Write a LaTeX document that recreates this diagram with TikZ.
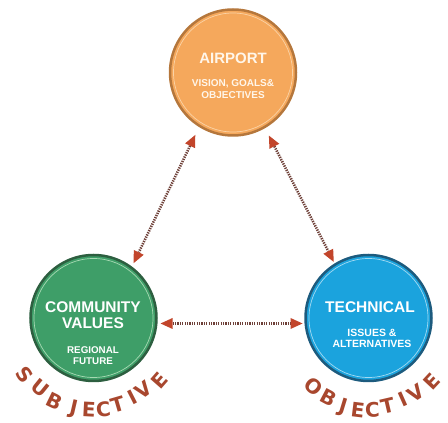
\documentclass[tikz,border=0pt]{standalone}
\usepackage{fontspec}
\setmainfont{Liberation Sans}
\newfontfamily\arcfont{DejaVu Sans}
\usetikzlibrary{arrows.meta}
\definecolor{airfill}{HTML}{F5A85C}
\definecolor{airdraw}{HTML}{B5773C}
\definecolor{airring}{HTML}{FAD3A6}
\definecolor{airtext}{HTML}{FFF6EA}
\definecolor{comfill}{HTML}{3E9E68}
\definecolor{comdraw}{HTML}{2D5F40}
\definecolor{comring}{HTML}{A6D9B2}
\definecolor{tecfill}{HTML}{1BA3DD}
\definecolor{tecdraw}{HTML}{1D5B7E}
\definecolor{tecring}{HTML}{A3DAF2}
\definecolor{linkc}{HTML}{6E4038}
\definecolor{headc}{HTML}{C2452B}
\definecolor{arcc}{HTML}{A8472E}
\begin{document}
\begin{tikzpicture}[x=1pt,y=1pt,
  circ/.style={circle, minimum size=126pt, inner sep=0pt, outer sep=0pt, line width=2.5pt},
  ring/.style={circle, minimum size=119pt, inner sep=0pt, outer sep=0pt, draw=#1, line width=0.7pt},
  link/.style={draw=linkc, line width=2.6pt, dash pattern=on 1.3pt off 1.1pt,
    {Triangle[length=12pt,width=11pt,color=headc,line width=0pt]}-{Triangle[length=12pt,width=11pt,color=headc,line width=0pt]}},
  bigt/.style={text=#1, font=\bfseries\fontsize{15.5}{16}\selectfont, align=center, inner sep=0pt},
  smallt/.style={text=#1, font=\bfseries\fontsize{9.5}{11.5}\selectfont, align=center, inner sep=0pt},
  arcl/.style={text=arcc, font=\arcfont\bfseries\fontsize{20}{20}\selectfont, inner sep=0pt}
]
\useasboundingbox (0,0) rectangle (448,423);
% circles
\node[circ, fill=airfill, draw=airdraw] (air) at (233,350.5) {};
\node[ring=airring] (airr) at (air) {};
\node[circ, fill=comfill, draw=comdraw] (com) at (93.5,105) {};
\node[ring=comring] (comr) at (com) {};
\node[circ, fill=tecfill, draw=tecdraw] (tec) at (368.5,105) {};
\node[ring=tecring] (tecr) at (tec) {};
% texts
\node[bigt=airtext, font=\bfseries\fontsize{15}{16}\selectfont] (airt) at (233,365) {AIRPORT};
\node[smallt=airtext, font=\bfseries\fontsize{10}{12}\selectfont] (airs) at (233,334) {VISION, GOALS\&\\OBJECTIVES};
\node[bigt=white, font=\bfseries\fontsize{15.5}{16}\selectfont] (comt) at (93,108) {COMMUNITY\\VALUES};
\node[smallt=white, font=\bfseries\fontsize{9.8}{11.5}\selectfont] (coms) at (93,67.5) {REGIONAL\\FUTURE};
\node[bigt=white] (tect) at (370,116) {TECHNICAL};
\node[smallt=white, font=\bfseries\fontsize{10.5}{11}\selectfont] (tecs) at (372,84.5) {ISSUES \&\\ALTERNATIVES};
% connectors
\draw[link, shorten <=10pt, shorten >=5pt] (air.238.7) -- (com.53.7);
\draw[link, shorten <=9.6pt, shorten >=3pt] (air.300.6) -- (tec.122);
\draw[link, shorten <=4.3pt, shorten >=3.2pt] (com.-5.5) -- (tec.185.5);
% curved labels
\foreach \l/\a/\r [count=\i] in {S/-142.5/87, U/-129/85, B/-116/88, J/-103/89, E/-93/88, C/-83.5/88, T/-73.7/86, I/-63/85, V/-53.7/85, E/-41.3/88}
  \node[arcl, rotate=\a+90] (s\i) at ([shift={(\a:\r)}, yshift=-4pt]com.center) {\l};
\foreach \l/\a/\r [count=\i] in {O/-131/84, B/-118/85, J/-107/88, E/-97/87.5, C/-87.4/86.5, T/-77/85, I/-66/84, V/-56/84, E/-43/86}
  \node[arcl, rotate=\a+90] (o\i) at ([shift={(\a:\r)}, yshift=-5pt]tec.center) {\l};
\end{tikzpicture}
\end{document}
